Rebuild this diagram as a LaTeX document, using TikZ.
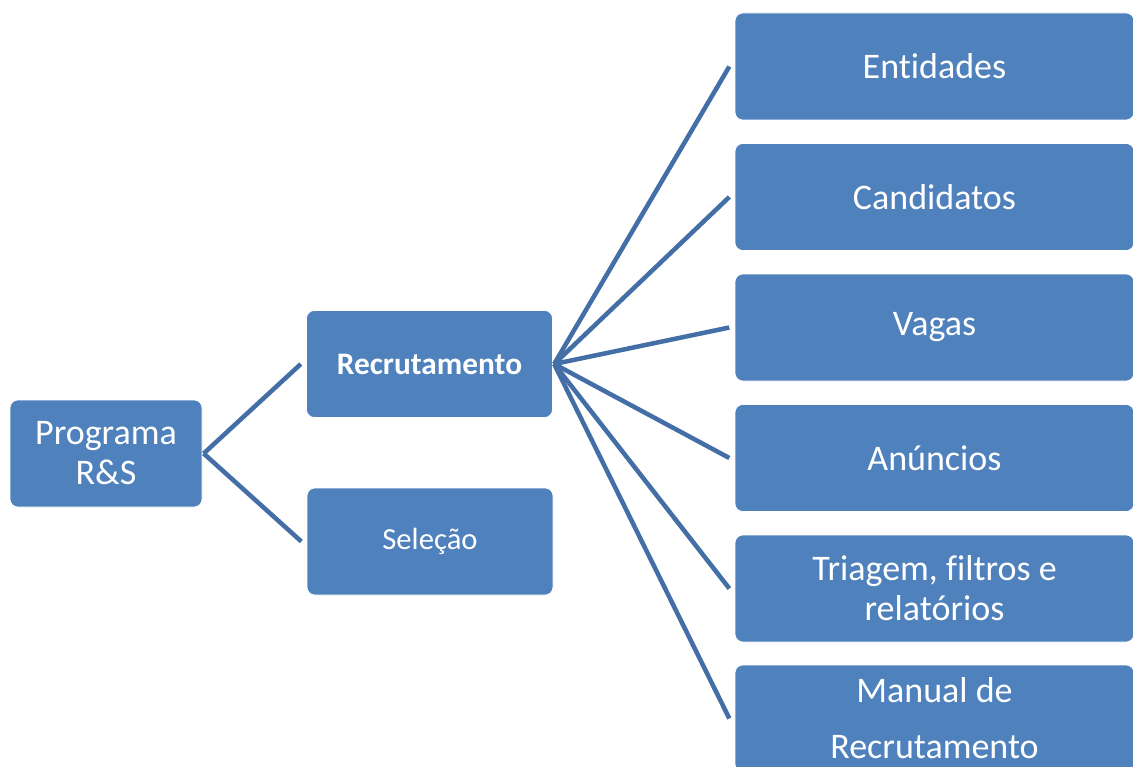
\documentclass[tikz,border=0pt]{standalone}
\usepackage{fontspec}
\setmainfont{Carlito}[Ligatures={NoCommon,NoRare,NoContextual}]
\definecolor{boxfill}{HTML}{4F81BD}
\definecolor{linkcol}{HTML}{446FA6}
\begin{document}
\begin{tikzpicture}[x=0.75pt,y=-0.75pt,
  box/.style={fill=boxfill,draw=white,line width=0.5pt,rounded corners=6pt,text=white,align=center,inner sep=0pt},
  bigtext/.style={font=\fontsize{27}{30}\selectfont},
  midtext/.style={font=\fontsize{23}{27}\selectfont},
  rightbox/.style={box,bigtext,minimum width=399*0.75pt,minimum height=107*0.75pt},
  midbox/.style={box,midtext,minimum width=246*0.75pt,minimum height=107*0.75pt},
  link/.style={draw=linkcol,line width=3.4pt}]
\useasboundingbox (0,0) rectangle (1133,767);
\node[box,bigtext,minimum width=192*0.75pt,minimum height=107*0.75pt] (prog) at (106,453.5) {Programa\\R\&S};
\node[midbox,font=\fontsize{23.5}{27}\selectfont\bfseries] (rec) at (429.5,364) {Recrutamento};
\node[midbox] (sel) at (430,541.5) {Seleção};
\node[rightbox] (ent) at (934.5,66.5) {Ent\kern0pt idades};
\node[rightbox] (cand) at (934.5,197) {Candidatos};
\node[rightbox] (vag) at (934.5,327.5) {Vagas};
\node[rightbox] (anu) at (934.5,458) {Anúncios};
\node[rightbox] (tri) at (934.5,588.5) {Triagem, f\kern0pt iltros e\\relatórios};
\node[rightbox] (man) at (934.5,718.5) {};
\node[text=white,bigtext,inner sep=0pt] (manA) at (934.5,690) {Manual de};
\node[text=white,bigtext,inner sep=0pt] (manB) at (934.5,747) {Recrutamento};
\draw[link] ([xshift=1pt]prog.east) -- ([xshift=-4pt]rec.west);
\draw[link] ([xshift=1pt]prog.east) -- ([xshift=-4pt]sel.west);
\foreach \t in {ent,cand,vag,anu,tri,man}
  \draw[link] ([xshift=1pt]rec.east) -- ([xshift=-4pt]\t.west);
\end{tikzpicture}
\end{document}
